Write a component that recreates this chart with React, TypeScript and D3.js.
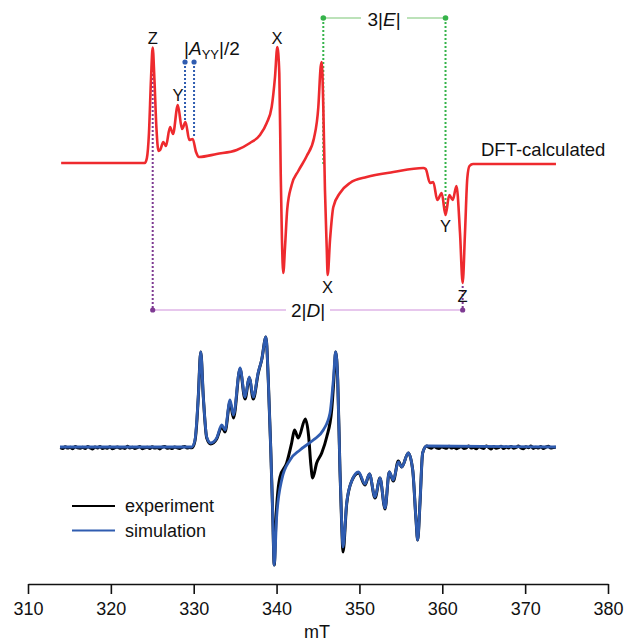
import React, { useEffect, useRef } from 'react';
import * as d3 from 'd3';

const W = 624;
const H = 644;
const FONT = '"Liberation Sans", Arial, sans-serif';

const xTicks = [310, 320, 330, 340, 350, 360, 370, 380];

// DFT-calculated spectrum (mT, arbitrary intensity)
const dftField = [
  314.0, 324.1, 324.35, 324.6, 324.85, 325.05, 325.25, 325.5, 325.75, 325.95,
  326.33, 326.65, 327.14, 327.5, 328.08, 328.59, 329.01, 329.47, 329.88, 330.28,
  330.64, 332.77, 335.19, 336.79, 338.0, 338.81, 339.41, 339.81, 340.09, 340.33,
  340.5, 340.65, 340.81, 341.02, 341.29, 341.82, 342.62, 343.64, 344.52, 345.04,
  345.32, 345.45, 345.64, 345.84, 346.05, 346.17, 346.45, 346.85, 347.65, 348.86,
  350.88, 354.09, 357.71, 358.0, 358.52, 358.91, 359.4, 359.93, 360.39, 360.85,
  361.26, 361.71, 362.14, 362.46, 362.74, 363.02, 363.28, 363.71, 373.72,
];
const dftIntensity = [
  0, 0, 5, 30, 85, 115.5, 85, 35, 12, 13,
  21, 17, 36, 29, 58, 34, 41, 23, 24, 11,
  6, 9, 13, 20, 28, 40, 56, 86, 116, 90,
  -10, -77, -110, -84, -46, -22, -8, 7, 25, 56,
  96, 101, 56, -27, -84, -112, -77, -44, -30, -20,
  -14, -9, -5, -6, -20, -19, -37, -30, -52, -32,
  -37, -23, -70, -120, -70, -15, -3, -1, -1,
];

// simulated spectrum
const simField = [
  313.86, 329.76, 330.15, 330.4, 330.55, 330.85, 331.16, 331.57, 332.05, 332.77,
  333.38, 333.78, 334.38, 334.8, 335.59, 336.19, 336.71, 337.19, 337.79, 338.2,
  338.72, 339.0, 339.29, 339.53, 339.72, 340.01, 340.62, 341.62, 342.83, 344.43,
  345.64, 346.45, 346.85, 347.13, 347.38, 347.65, 347.86, 348.02, 348.46, 349.07,
  349.89, 350.67, 351.21, 351.88, 352.48, 353.09, 353.6, 354.09, 354.69, 355.1,
  355.9, 356.43, 356.83, 357.03, 357.31, 357.63, 358.12, 373.72,
];
const simIntensity = [
  0, 0, 7, 30, 50, 95, 50, 10, 4, 9,
  22, 17, 47, 32, 79, 50, 70, 50, 75, 87,
  110, 67, 0, -66, -118, -70, -33, -13, -3, 7,
  17, 34, 67, 95, 67, -23, -76, -100, -56, -34,
  -25, -37, -27, -50, -31, -61, -25, -33, -15, -20,
  -6, -23, -73, -93, -56, -6, 1, 0,
];

// experimental spectrum
const expField = [
  313.9, 314.2, 314.5, 314.8, 315.1, 315.4, 315.7, 316.0, 316.3, 316.6,
  316.9, 317.2, 317.5, 317.8, 318.1, 318.4, 318.7, 319.0, 319.3, 319.6,
  319.9, 320.2, 320.5, 320.8, 321.1, 321.4, 321.7, 322.0, 322.3, 322.6,
  322.9, 323.2, 323.5, 323.8, 324.1, 324.4, 324.7, 325.0, 325.3, 325.6,
  325.9, 326.2, 326.5, 326.8, 327.1, 327.4, 327.7, 328.0, 328.3, 328.6,
  328.9, 329.2, 329.5, 329.8,
  330.15, 330.4, 330.55, 330.85, 331.16, 331.57, 332.05, 332.77, 333.38,
  333.78, 334.38, 334.8, 335.59, 336.19, 336.71, 337.19, 337.79, 338.2, 338.72,
  339.0, 339.29, 339.53, 339.72, 339.93, 340.41, 341.22, 341.82, 342.16, 342.62,
  343.47, 343.88, 344.12, 344.36, 344.84, 345.45, 346.05, 346.65, 346.95, 347.13,
  347.38, 347.65, 347.86, 348.02, 348.46, 349.07, 349.89, 350.67, 351.21, 351.88,
  352.48, 353.09, 353.6, 354.09, 354.69, 355.1, 355.9, 356.43, 356.83, 357.03,
  357.31, 357.63, 358.12,
  358.4, 358.7, 359.0, 359.3, 359.6, 359.9, 360.2, 360.5, 360.8, 361.1,
  361.4, 361.7, 362.0, 362.3, 362.6, 362.9, 363.2, 363.5, 363.8, 364.1,
  364.4, 364.7, 365.0, 365.3, 365.6, 365.9, 366.2, 366.5, 366.8, 367.1,
  367.4, 367.7, 368.0, 368.3, 368.6, 368.9, 369.2, 369.5, 369.8, 370.1,
  370.4, 370.7, 371.0, 371.3, 371.6, 371.9, 372.2, 372.5, 372.8, 373.1,
  373.4, 373.7,
];
const expIntensity = [
  -0.6, -1.4, 0.2, -1.1, -0.3, -1.7, 0.5, -0.9, -1.3, -0.2,
  -1.6, 0.4, -0.8, -1.9, -0.1, -1.0, 0.6, -1.5, -0.4, -1.2,
  0.3, -1.8, -0.7, 0.1, -1.3, -0.5, -1.6, 0.7, -0.9, -0.2,
  -1.4, -0.6, 0.4, -1.7, -0.8, -0.3, -1.5, 0.2, -1.1, -0.4,
  -1.9, -0.2, 0.5, -1.2, -0.7, -1.6, 0.1, -0.9, -1.4, -0.3,
  0.6, -1.1, -0.5, -0.8,
  6, 28, 50, 95, 50, 9, 3, 8, 20,
  15, 45, 29, 78, 48, 69, 48, 74, 87, 110,
  67, 0, -66, -118, -72, -30, -16, 4, 17, 9,
  28, 10, -16, -31, -16, -6, 10, 37, 72, 95,
  67, -23, -78, -105, -57, -34, -26, -38, -27, -51,
  -31, -62, -25, -34, -14, -20, -6, -23, -73, -93,
  -56, -6, 1,
  -0.4, -1.2, 0.6, -0.9, -1.6, 0.2, -0.5, -1.3, 0.7, -1.0,
  -0.2, -1.7, -0.6, 0.4, -1.4, -0.8, 0.9, -1.1, -0.3, -1.8,
  0.3, -0.7, -1.5, 1.0, -0.4, -1.9, 0.5, -1.2, -0.6, 0.8,
  -1.6, -0.1, -1.0, 0.6, -1.3, -0.5, 1.1, -0.9, -1.7, 0.2,
  -0.8, 0.9, -1.4, -0.3, -1.1, 0.4, -1.6, -0.2, 0.7, -1.0,
  -0.5, -0.3,
];

// zero-field splitting markers (mT)
const dMarks = [325.05, 362.46];
const eMarks = [345.64, 360.39];
const aMarks = [328.95, 330.04];

const legendLabels = ['experiment', 'simulation'];

const RED = '#ee2a2e';
const BLUE = '#2f5cb0';
const PURPLE = '#7e3a92';
const GREEN = '#35b34a';

const x = d3.scaleLinear().domain([310, 380]).range([28, 608]);
const yTop = d3.scaleLinear().domain([-120, 120]).range([283, 43]);
const yBot = d3.scaleLinear().domain([-120, 120]).range([567, 327]);

const makeLine = (field: number[], y: d3.ScaleLinear<number, number>, curve: d3.CurveFactory) =>
  d3
    .line<number>()
    .x((_, i) => x(field[i]))
    .y((d) => y(d))
    .curve(curve);

const Axis = () => {
  const ref = useRef<SVGGElement>(null);
  useEffect(() => {
    const g = d3.select(ref.current);
    g.selectAll('*').remove();
    g.call(d3.axisBottom(x).tickValues(xTicks).tickSize(10).tickSizeOuter(0).tickPadding(8));
    g.select('.domain').attr('stroke', '#111').attr('stroke-width', 1.6);
    g.selectAll('.tick line').attr('stroke', '#111').attr('stroke-width', 1.6);
    g.selectAll('.tick text')
      .attr('fill', '#111')
      .style('font-size', '18px')
      .style('font-family', FONT);
  }, []);
  return <g ref={ref} transform="translate(0,584)" />;
};

const App = () => {
  const dftLine = makeLine(dftField, yTop, d3.curveMonotoneX)(dftIntensity) || '';
  const simLine = makeLine(simField, yBot, d3.curveMonotoneX)(simIntensity) || '';
  const expLine = makeLine(expField, yBot, d3.curveMonotoneX)(expIntensity) || '';

  const txt = { fontFamily: FONT, fill: '#111' };

  return (
    <svg width={W} height={H} style={{ position: 'absolute', left: 0, top: 0, background: '#fff' }}>
      {/* 2|D| marker */}
      <line x1={x(dMarks[0])} x2={x(dMarks[1])} y1={310} y2={310} stroke="#cf8fdc" strokeWidth={1.2} />
      <rect x={286} y={300} width={44} height={20} fill="#fff" />
      <line x1={x(dMarks[0])} x2={x(dMarks[0])} y1={54} y2={310} stroke={PURPLE} strokeWidth={2} strokeDasharray="2,2" />
      <line x1={x(dMarks[1])} x2={x(dMarks[1])} y1={286} y2={310} stroke={PURPLE} strokeWidth={2} strokeDasharray="2,2" />
      {dMarks.map((f) => (
        <circle key={f} cx={x(f)} cy={310} r={2.6} fill={PURPLE} />
      ))}
      <text x={308} y={317} textAnchor="middle" fontSize={19} {...txt}>
        2|<tspan fontStyle="italic">D</tspan>|
      </text>

      {/* 3|E| marker */}
      <line x1={x(eMarks[0])} x2={x(eMarks[1])} y1={18} y2={18} stroke="#a6d9a2" strokeWidth={1.4} />
      <rect x={361} y={8} width={46} height={20} fill="#fff" />
      <line x1={x(eMarks[0])} x2={x(eMarks[0])} y1={18} y2={164} stroke={GREEN} strokeWidth={2} strokeDasharray="2,2" />
      <line x1={x(eMarks[1])} x2={x(eMarks[1])} y1={18} y2={213} stroke={GREEN} strokeWidth={2} strokeDasharray="2,2" />
      {eMarks.map((f) => (
        <circle key={f} cx={x(f)} cy={18} r={2.8} fill={GREEN} />
      ))}
      <text x={384} y={26} textAnchor="middle" fontSize={19} {...txt}>
        3|<tspan fontStyle="italic">E</tspan>|
      </text>

      {/* |Ayy|/2 marker */}
      <line x1={x(aMarks[0])} x2={x(aMarks[0])} y1={62} y2={120} stroke={BLUE} strokeWidth={2} strokeDasharray="2,2" />
      <line x1={x(aMarks[1])} x2={x(aMarks[1])} y1={62} y2={138} stroke={BLUE} strokeWidth={2} strokeDasharray="2,2" />
      {aMarks.map((f) => (
        <circle key={f} cx={x(f)} cy={62} r={2.6} fill={BLUE} />
      ))}
      <text x={184} y={55} fontSize={19} {...txt}>
        |<tspan fontStyle="italic">A</tspan>
        <tspan fontSize={13} dy={4}>YY</tspan>
        <tspan dy={-4}>|/2</tspan>
      </text>

      {/* DFT spectrum */}
      <path d={dftLine} fill="none" stroke={RED} strokeWidth={2.6} strokeLinejoin="round" />
      <text x={481} y={156} fontSize={18.5} {...txt}>DFT-calculated</text>

      {/* canonical orientation labels */}
      <g fontSize={16.5} textAnchor="middle" style={{ fontFamily: FONT }} fill="#111">
        <text x={x(325.05)} y={44}>Z</text>
        <text x={x(328.1)} y={101}>Y</text>
        <text x={x(340.05)} y={44}>X</text>
        <text x={x(346.15)} y={293}>X</text>
        <text x={x(360.39)} y={232}>Y</text>
        <text x={x(362.46)} y={302}>Z</text>
      </g>

      {/* experiment vs simulation */}
      <path d={expLine} fill="none" stroke="#000" strokeWidth={3} strokeLinejoin="round" />
      <path d={simLine} fill="none" stroke={BLUE} strokeWidth={2.8} strokeLinejoin="round" />

      {/* legend */}
      {legendLabels.map((l, i) => (
        <g key={l} transform={`translate(0,${506 + i * 24.5})`}>
          <line x1={72} x2={115} y1={0} y2={0} stroke={i === 0 ? '#000' : BLUE} strokeWidth={2} />
          <text x={125} y={6} fontSize={18} {...txt}>{l}</text>
        </g>
      ))}

      <Axis />
      <text x={317} y={638} textAnchor="middle" fontSize={18} {...txt}>mT</text>
    </svg>
  );
};

export default App;
